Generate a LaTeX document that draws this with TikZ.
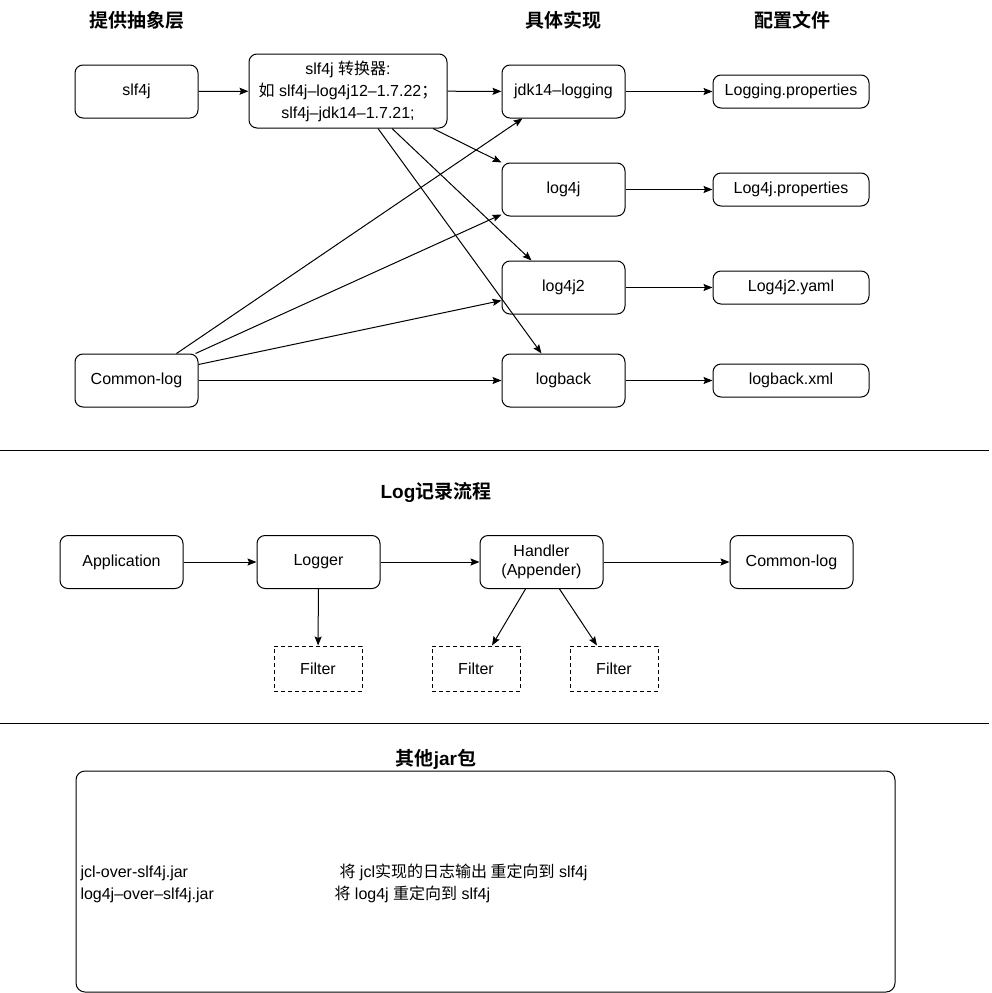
\documentclass[tikz,border=0pt]{standalone}
\usepackage{fontspec}
\setmainfont{Liberation Sans}
\newfontfamily\cjk{Noto Sans CJK SC}[BoldFont={Noto Sans CJK SC Bold}]
\usetikzlibrary{arrows.meta}

\begin{document}
\begin{tikzpicture}[x=1pt,y=-1pt,line width=1pt,
  >={Stealth[length=9pt,width=7pt,inset=1.5pt]},
  box/.style={draw,rounded corners=8pt,minimum width=123pt,minimum height=53pt,
    align=center,font=\fontsize{16}{22}\selectfont},
  cfgbox/.style={draw,rounded corners=8pt,minimum width=156pt,minimum height=33pt,
    font=\fontsize{16}{20}\selectfont},
  filterbox/.style={draw,dash pattern=on 4pt off 3pt,minimum width=88pt,
    minimum height=45pt,font=\fontsize{16}{20}\selectfont},
  title/.style={font=\fontsize{19}{23}\selectfont\bfseries},
  plain/.style={font=\fontsize{16}{20}\selectfont,inner sep=0pt}]
\useasboundingbox (0,0) rectangle (991,993);

% titles of the top part
\node[title] (t1) at (137,20) {\cjk 提供抽象层};
\node[title] (t2) at (563,20) {\cjk 具体实现};
\node[title] (t3) at (792,20) {\cjk 配置文件};

% abstraction layer
\node[box] (slf4j) at (136.5,91.5) {slf4j};
\node[box] (commonlog) at (136.5,380.5) {Common-log};
\node[box,minimum width=198pt,minimum height=74pt] (conv) at (348,91)
  {slf4j {\cjk 转换器}:\\{\cjk 如} slf4j–log4j12–1.7.22{\cjk ；}\\slf4j–jdk14–1.7.21;};

% implementations
\node[box] (jdk) at (563.5,91.5) {jdk14–logging};
\node[box] (log4j) at (563.5,189.5) {log4j};
\node[box] (log4jtwo) at (563.5,287.5) {log4j2};
\node[box] (logback) at (563.5,380.5) {logback};

% config files
\node[cfgbox] (cfgjdk) at (791,91.5) {Logging.properties};
\node[cfgbox] (cfglog4j) at (791,189.5) {Log4j.properties};
\node[cfgbox] (cfglog4jtwo) at (791,287.5) {Log4j2.yaml};
\node[cfgbox] (cfglogback) at (791,380.5) {logback.xml};

\draw[->] (slf4j) -- (conv);
\draw[->] (conv) -- (jdk);
\draw[->] ([xshift=85pt]conv.south) -- (log4j.north west);
\draw[->] ([xshift=44pt]conv.south) -- ([xshift=30pt]log4jtwo.north west);
\draw[->] ([xshift=30pt]conv.south) -- ([xshift=40pt]logback.north west);
\draw[->] ([xshift=40pt]commonlog.north) -- ([xshift=21pt]jdk.south west);
\draw[->] ([xshift=-3pt]commonlog.north east) -- ([yshift=2pt]log4j.south west);
\draw[->] ([yshift=-11pt]commonlog.north east) -- ([yshift=14pt]log4jtwo.south west);
\draw[->] (commonlog) -- (logback);
\draw[->] (jdk) -- (cfgjdk);
\draw[->] (log4j) -- (cfglog4j);
\draw[->] (log4jtwo) -- (cfglog4jtwo);
\draw[->] (logback) -- (cfglogback);

\coordinate (sepa) at (0,450);
\coordinate (sepb) at (989,450);
\draw (sepa) -- (sepb);

% log flow
\node[title] (t4) at (436,492) {Log{\cjk 记录流程}};
\node[box] (app) at (121.5,562) {Application};
\node[box] (logger) at (318.5,562) {Logger};
\node[box,font=\fontsize{16}{19}\selectfont] (handler) at (541.5,562) {Handler\\(Appender)};
\node[box] (commonout) at (791.5,562) {Common-log};
\node[filterbox] (fa) at (318,668.5) {Filter};
\node[filterbox] (fb) at (476,668.5) {Filter};
\node[filterbox] (fc) at (614,668.5) {Filter};

\draw[->] (app) -- (logger);
\draw[->] (logger) -- (handler);
\draw[->] (handler) -- (commonout);
\draw[->] (logger) -- (fa);
\draw[->] ([xshift=-16pt]handler.south) -- ([xshift=16pt]fb.north);
\draw[->] ([xshift=18pt]handler.south) -- ([xshift=-17pt]fc.north);

\coordinate (sepc) at (0,723);
\coordinate (sepd) at (989,723);
\draw (sepc) -- (sepd);

% other jars
\node[title] (t5) at (436,759) {{\cjk 其他}jar{\cjk 包}};
\node[draw,rounded corners=9pt,minimum width=819pt,minimum height=221pt,
  inner sep=0pt] (jarbox) at (485.5,881.5) {};
\node[plain,anchor=base west] (jara) at (80,877) {jcl-over-slf4j.jar};
\node[plain,anchor=base west] (desca) at (339,877)
  {{\cjk 将} jcl{\cjk 实现的日志输出 重定向到} slf4j};
\node[plain,anchor=base west] (jarb) at (80,899) {log4j–over–slf4j.jar};
\node[plain,anchor=base west] (descb) at (334,899)
  {{\cjk 将} log4j {\cjk 重定向到} slf4j};
\end{tikzpicture}
\end{document}
